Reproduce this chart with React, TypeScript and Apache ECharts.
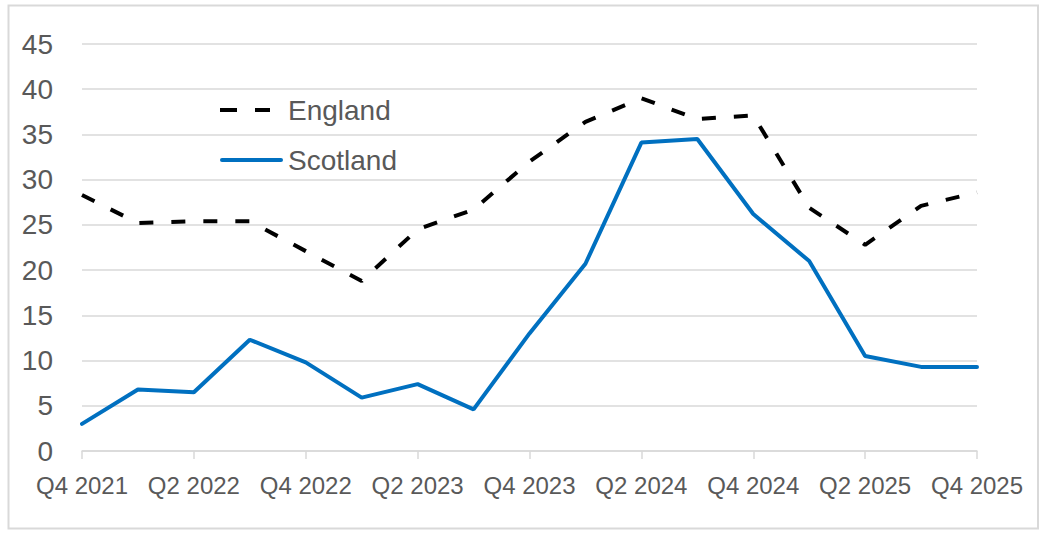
import { useEffect, useRef } from 'react'
import * as echarts from 'echarts'

const quarters = [
  'Q4 2021', 'Q1 2022', 'Q2 2022', 'Q3 2022', 'Q4 2022',
  'Q1 2023', 'Q2 2023', 'Q3 2023', 'Q4 2023',
  'Q1 2024', 'Q2 2024', 'Q3 2024', 'Q4 2024',
  'Q1 2025', 'Q2 2025', 'Q3 2025', 'Q4 2025',
]

const england = [28.3, 25.2, 25.4, 25.4, 22.1, 18.8, 24.5, 26.7, 32.0, 36.4, 39.0, 36.7, 37.1, 26.9, 22.8, 27.1, 28.6]
const scotland = [3.0, 6.8, 6.5, 12.3, 9.8, 5.9, 7.4, 4.6, 13.0, 20.7, 34.1, 34.5, 26.2, 21.0, 10.5, 9.3, 9.3]

const yTicks = { min: 0, max: 45, interval: 5 }

const FONT = '"Liberation Sans", Arial, sans-serif'
const TEXT = '#595959'
const GRID = '#d9d9d9'

// legend keys drawn like the Excel ones: two dashes for England, a solid bar for Scotland
const DASH_KEY = 'path://M0,0H17V4H0ZM35,0H50V4H35ZM63,0V4'
const SOLID_KEY = 'path://M2,0H61A2,2,0,0,1,61,4H2A2,2,0,0,1,2,0Z'

const App: React.FC = () => {
  const chartRef = useRef<HTMLDivElement | null>(null)

  useEffect(() => {
    if (!chartRef.current) return
    const chart = echarts.init(chartRef.current, null, { renderer: 'svg' })

    const option: echarts.EChartsOption = {
      animation: false,
      backgroundColor: '#ffffff',
      textStyle: { fontFamily: FONT },
      grid: { left: 82, right: 71, top: 44, bottom: 83 },
      graphic: [
        {
          type: 'rect',
          shape: { x: 8.5, y: 5.5, width: 1029.5, height: 523 },
          style: { fill: 'none', stroke: GRID, lineWidth: 2 },
          silent: true,
        },
      ],
      legend: {
        orient: 'vertical',
        left: 220,
        top: 95,
        padding: 0,
        itemWidth: 63,
        itemHeight: 4,
        itemGap: 20,
        textStyle: { color: TEXT, fontSize: 28, lineHeight: 30, fontFamily: FONT },
        data: [
          { name: 'England', icon: DASH_KEY },
          { name: 'Scotland', icon: SOLID_KEY },
        ],
      },
      xAxis: {
        type: 'category',
        data: quarters,
        boundaryGap: false,
        axisLine: { lineStyle: { color: GRID, width: 1.5 } },
        axisTick: { show: true, interval: 1, length: 8, lineStyle: { color: GRID, width: 1.5 } },
        axisLabel: { interval: 1, color: TEXT, fontSize: 24, margin: 22, fontFamily: FONT },
        splitLine: { show: false },
      },
      yAxis: {
        type: 'value',
        min: yTicks.min,
        max: yTicks.max,
        interval: yTicks.interval,
        axisLine: { show: false },
        axisTick: { show: false },
        axisLabel: { color: TEXT, fontSize: 28, margin: 29, fontFamily: FONT },
        splitLine: { lineStyle: { color: GRID, width: 1.5 } },
      },
      series: [
        {
          name: 'England',
          type: 'line',
          data: england,
          symbol: 'none',
          lineStyle: { color: '#000000', width: 4, type: [14, 18] },
          itemStyle: { color: '#000000' },
        },
        {
          name: 'Scotland',
          type: 'line',
          data: scotland,
          symbol: 'none',
          lineStyle: { color: '#0070c0', width: 4, cap: 'round' },
          itemStyle: { color: '#0070c0' },
        },
      ],
    }

    chart.setOption(option)
    return () => chart.dispose()
  }, [])

  return (
    <div
      ref={chartRef}
      style={{ position: 'absolute', left: 0, top: 0, width: 1048, height: 534 }}
    />
  )
}

export default App
